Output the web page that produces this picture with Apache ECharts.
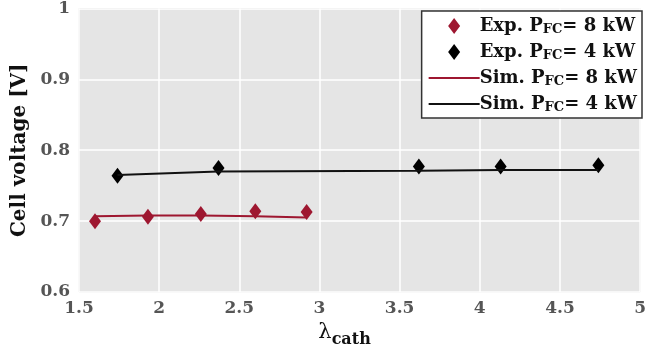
<!DOCTYPE html>
<html>
<head>
<meta charset="utf-8">
<script src="https://cdn.jsdelivr.net/npm/echarts@6/dist/echarts.min.js"></script>
<style>
  html, body { margin: 0; padding: 0; background: #fff; }
  #chart { width: 649px; height: 359px; }
</style>
</head>
<body>
<div id="chart"></div>
<script>
var myChart = echarts.init(document.getElementById('chart'));

var exp8X = [1.60, 1.93, 2.26, 2.60, 2.92];
var exp8Y = [0.700, 0.706, 0.710, 0.714, 0.713];
var exp4X = [1.74, 2.37, 3.62, 4.13, 4.74];
var exp4Y = [0.764, 0.775, 0.777, 0.777, 0.779];

// simulated curves
var sim8X = [1.60, 1.93, 2.26, 2.60, 2.92];
var sim8Y = [0.707, 0.708, 0.708, 0.707, 0.705];
var sim4X = [1.74, 2.37, 3.62, 4.13, 4.74];
var sim4Y = [0.765, 0.770, 0.771, 0.772, 0.772];

var legendNames = ['exp8', 'exp4', 'sim8', 'sim4'];
var legendLabels = [
    'Exp. P{sub|FC}= 8 kW',
    'Exp. P{sub|FC}= 4 kW',
    'Sim. P{sub|FC}= 8 kW',
    'Sim. P{sub|FC}= 4 kW'
];

var red = '#9e1730';
var serif = '"DejaVu Serif", "Liberation Serif", serif';
var diamond = 'path://M6,0 L12,8 L6,16 L0,8 Z';

function pairs(xs, ys) {
    return xs.map(function (x, i) { return [x, ys[i]]; });
}

var option = {
    animation: false,
    grid: {
        left: 79, right: 4, top: 8, bottom: 67,
        show: true,
        backgroundColor: '#e5e5e5',
        borderColor: '#d4d4d4',
        borderWidth: 1
    },
    legend: {
        orient: 'vertical',
        right: 7,
        top: 11,
        backgroundColor: '#fff',
        borderColor: '#333',
        borderWidth: 1.5,
        borderRadius: 0,
        padding: [5, 5, 4, 6],
        itemGap: 6,
        itemWidth: 51,
        itemHeight: 16,
        symbolKeepAspect: true,
        data: [
            { name: 'exp8', icon: diamond },
            { name: 'exp4', icon: diamond },
            { name: 'sim8', itemStyle: { opacity: 0 } },
            { name: 'sim4', itemStyle: { opacity: 0 } }
        ],
        formatter: function (name) {
            return legendLabels[legendNames.indexOf(name)];
        },
        textStyle: {
            color: '#111',
            fontFamily: serif,
            fontWeight: 'bold',
            fontSize: 18,
            lineHeight: 20,
            padding: [0, 0, 0, -5],
            rich: {
                sub: {
                    fontFamily: serif,
                    fontWeight: 'bold',
                    fontSize: 13,
                    color: '#111',
                    verticalAlign: 'bottom',
                    padding: [8, 0, 0, 0]
                }
            }
        }
    },
    xAxis: {
        type: 'value',
        min: 1.5,
        max: 5,
        interval: 0.5,
        name: '{l|λ}{s|cath}',
        nameLocation: 'middle',
        nameGap: 26,
        nameTextStyle: {
            padding: [0, 30, 0, 0],
            rich: {
                l: { fontFamily: serif, fontSize: 21, color: '#111' },
                s: { fontFamily: serif, fontWeight: 'bold', fontSize: 16, color: '#111', padding: [14, 0, 0, 0] }
            }
        },
        axisLine: { show: false },
        axisTick: { show: false },
        axisLabel: {
            color: '#555',
            fontFamily: serif,
            fontWeight: 'bold',
            fontSize: 17,
            margin: 8
        },
        splitLine: { lineStyle: { color: '#fff', width: 1.5 } }
    },
    yAxis: {
        type: 'value',
        min: 0.6,
        max: 1,
        interval: 0.1,
        name: 'Cell voltage [V]',
        nameLocation: 'middle',
        nameGap: 48,
        nameTextStyle: {
            color: '#111',
            fontFamily: serif,
            fontWeight: 'bold',
            fontSize: 20
        },
        axisLine: { show: false },
        axisTick: { show: false },
        axisLabel: {
            color: '#555',
            fontFamily: serif,
            fontWeight: 'bold',
            fontSize: 17,
            margin: 9,
            formatter: function (v) { return v === 1 ? '1' : v.toFixed(1); }
        },
        splitLine: { lineStyle: { color: '#fff', width: 1.5 } }
    },
    series: [
        {
            name: 'sim8', type: 'line', symbol: 'none',
            data: pairs(sim8X, sim8Y),
            lineStyle: { color: red, width: 2 },
            itemStyle: { color: red }
        },
        {
            name: 'sim4', type: 'line', symbol: 'none',
            data: pairs(sim4X, sim4Y),
            lineStyle: { color: '#111', width: 2 },
            itemStyle: { color: '#111' }
        },
        {
            name: 'exp8', type: 'scatter', symbol: 'diamond', symbolSize: [12, 16],
            data: pairs(exp8X, exp8Y),
            itemStyle: { color: red, opacity: 1 }
        },
        {
            name: 'exp4', type: 'scatter', symbol: 'diamond', symbolSize: [12, 16],
            data: pairs(exp4X, exp4Y),
            itemStyle: { color: '#000', opacity: 1 }
        }
    ]
};

myChart.setOption(option);
</script>
</body>
</html>
